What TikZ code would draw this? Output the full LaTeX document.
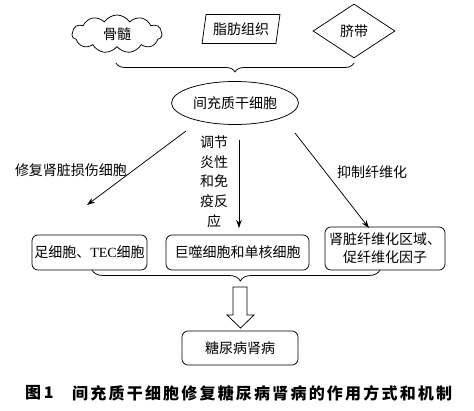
\documentclass[tikz,border=0pt]{standalone}
\usepackage{fontspec}
\setmainfont{Liberation Serif}
\newfontfamily\cjk{Noto Sans CJK SC}
\usetikzlibrary{shapes.symbols,shapes.geometric,decorations.pathreplacing,arrows.meta}
\newcommand\cg{\kern2.2pt}
\begin{document}
\begin{tikzpicture}[x=1pt,y=-1pt,
  every node/.style={font=\cjk\fontsize{14}{16}\selectfont},
  ln/.style={line width=0.75pt},
  arr/.style={ln,-{Stealth[length=8pt,width=5.5pt]}},
  rbox/.style={draw,ln,rounded corners=6pt,inner sep=0pt,align=center},
  brc/.style={ln,decorate,decoration={brace,mirror,amplitude=9pt}},
  lab/.style={inner sep=0pt}]
\useasboundingbox (0,0) rectangle (474,411);
% sources
\node[cloud,draw,ln,cloud puffs=11,cloud puff arc=115,aspect=2.3,minimum width=90pt,minimum height=38pt,inner sep=0pt] (bm) at (117,34) {骨髓};
\node[trapezium,draw,ln,trapezium left angle=76,trapezium right angle=104,trapezium stretches=true,minimum width=78pt,minimum height=29pt,inner sep=0pt] (fat) at (241,29) {脂肪组织};
\node[diamond,draw,ln,aspect=1.52,minimum width=82pt,minimum height=54pt,inner sep=0pt] (uc) at (354,31) {脐带};
% brace 1
\coordinate (b1l) at (116,63);
\coordinate (b1r) at (354,63);
\draw[brc] (b1l) -- (b1r);
% MSC
\node[ellipse,draw,ln,minimum width=127pt,minimum height=43pt,inner sep=0pt] (msc) at (235,103) {间充质干细胞};
% arrows
\coordinate (a1s) at (186,131); \coordinate (a1e) at (87,205);
\coordinate (a2s) at (239,140); \coordinate (a2e) at (239,228);
\coordinate (a3s) at (295,133); \coordinate (a3e) at (369,228);
\draw[arr] (a1s) -- (a1e);
\draw[arr] (a2s) -- (a2e);
\draw[arr] (a3s) -- (a3e);
\node[lab] (l1) at (71,170) {修复肾脏损伤细胞};
\node[lab,align=center,font=\cjk\fontsize{14}{19.7}\selectfont] (l2) at (214,181.5) {调节\\炎性\\和免\\疫反\\应};
\node[lab] (l3) at (372,172) {抑制纤维化};
% boxes
\node[rbox,minimum width=115pt,minimum height=35pt] (bx1) at (89.5,252.5) {足细胞、\textrm{TEC}细胞};
\node[rbox,minimum width=143pt,minimum height=35pt] (bx2) at (237.5,252.5) {巨噬细胞和单核细胞};
\node[rbox,minimum width=120pt,minimum height=43pt,font=\cjk\fontsize{14}{18}\selectfont] (bx3) at (385,248.5) {肾脏纤维化区域、\\促纤维化因子};
% brace 2
\coordinate (b2l) at (92,270);
\coordinate (b2r) at (380,270);
\draw[brc,decoration={amplitude=11pt,aspect=0.515}] (b2l) -- (b2r);
% block arrow
\coordinate (ba1) at (233,287);
\draw[ln] (ba1) -- (247,287) -- (247,315) -- (254,315) -- (240.5,328) -- (227,315) -- (233,315) -- cycle;
% result
\node[rbox,minimum width=116pt,minimum height=34pt] (dn) at (240,348) {糖尿病肾病};
% caption
\node[lab,anchor=west,font=\cjk\bfseries\fontsize{16}{18}\selectfont] (cap1) at (25,393) {图\,\textbf{1}};
\node[lab,anchor=west,font=\cjk\bfseries\fontsize{16}{18}\selectfont] (cap2) at (72,393) {间\cg 充\cg 质\cg 干\cg 细\cg 胞\cg 修\cg 复\cg 糖\cg 尿\cg 病\cg 肾\cg 病\cg 的\cg 作\cg 用\cg 方\cg 式\cg 和\cg 机\cg 制};
\end{tikzpicture}
\end{document}
